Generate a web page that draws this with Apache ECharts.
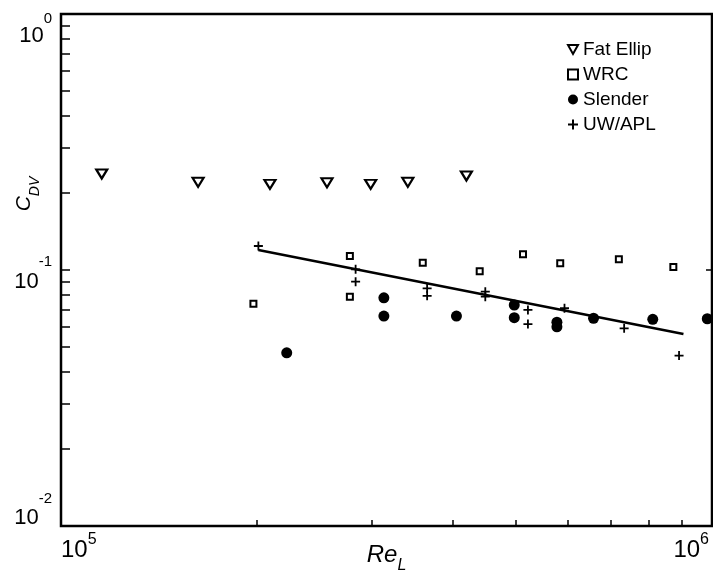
<!DOCTYPE html>
<html><head><meta charset="utf-8">
<script src="https://cdn.jsdelivr.net/npm/echarts@6/dist/echarts.min.js"></script>
<style>html,body{margin:0;padding:0;background:#fff}#c{width:713px;height:575px}</style>
</head><body><div id="c"></div><script>
// ---- data (Re_L, C_DV) ----
const fatEllipRe  = [1.155e5, 1.624e5, 2.094e5, 2.562e5, 2.99e5, 3.41e5, 4.195e5];
const fatEllipCdv = [0.237, 0.220, 0.216, 0.219, 0.216, 0.220, 0.233];
const wrcRe  = [1.975e5, 2.778e5, 2.778e5, 3.595e5, 4.397e5, 5.125e5, 5.846e5, 7.193e5, 8.722e5];
const wrcCdv = [0.0738, 0.1134, 0.0787, 0.1068, 0.0989, 0.1152, 0.1062, 0.1101, 0.1027];
const slenderRe  = [2.222e5, 3.133e5, 3.133e5, 4.05e5, 4.969e5, 4.969e5, 5.778e5, 5.778e5, 6.577e5, 8.11e5, 9.835e5];
const slenderCdv = [0.0475, 0.0779, 0.0661, 0.0661, 0.0730, 0.0651, 0.0625, 0.0600, 0.0648, 0.0642, 0.0645];
const uwRe  = [2.01e5, 2.835e5, 2.835e5, 3.651e5, 3.651e5, 4.485e5, 4.485e5, 5.215e5, 5.215e5, 5.935e5, 7.329e5, 8.9e5];
const uwCdv = [0.1241, 0.1006, 0.0900, 0.0848, 0.0793, 0.0823, 0.0787, 0.0698, 0.0615, 0.0709, 0.0592, 0.0463];
const fitRe  = [2.01e5, 9.04e5];
const fitCdv = [0.1197, 0.0562];
const seriesNames = ['Fat Ellip', 'WRC', 'Slender', 'UW/APL'];
// ---- axes / tick labels ----
const xTickValues = [1e5, 1e6];
const xTickExps = ['5', '6'];
const yTickValues = [0.01, 0.1, 1];
const yTickExps = ['-2', '-1', '0'];
const xMinorTicks = [1e5, 2e5, 3e5, 4e5, 5e5, 6e5, 7e5, 8e5, 9e5, 1e6];
const yMinorTicks = [0.01, 0.02, 0.03, 0.04, 0.05, 0.06, 0.07, 0.08, 0.09,
                     0.1, 0.2, 0.3, 0.4, 0.5, 0.6, 0.7, 0.8, 0.9, 1];
const xTitle = ['Re', 'L'];
const yTitle = ['C', 'DV'];

const FONT = '"Liberation Sans", Arial, Helvetica, sans-serif';
const pairs = (xs, ys) => xs.map((x, i) => [x, ys[i]]);
const idxOf = (arr, v) => arr.findIndex(t => Math.abs(Math.log10(t) - Math.log10(v)) < 1e-6);

// per-label vertical offsets of the y tick labels (base "10", superscript) relative to tick
const yLabelOffsets = [[-8, -27], [12, -8], [22, 5]];
const yRich = {};
const BOX = 100;
yLabelOffsets.forEach((o, i) => {
  const ptb = 39 + o[0], pts = 42.5 + o[1];
  yRich['b' + i] = {fontSize: 22, lineHeight: 22, fontFamily: FONT, color: '#000', padding: [ptb, 0, BOX - 22 - ptb, 0]};
  yRich['s' + i] = {fontSize: 15, lineHeight: 15, fontFamily: FONT, color: '#000', padding: [pts, 0, BOX - 15 - pts, 0]};
});
const TRI_DOWN = 'path://M0,0H10L5,9Z';

const chart = echarts.init(document.getElementById('c'), null, {renderer: 'canvas'});
const option = {
  animation: false,
  backgroundColor: '#fff',
  grid: {left: 61, right: 1, top: 14, bottom: 49, outerBoundsMode: 'none', containLabel: false,
         show: true, borderColor: '#000', borderWidth: 2.5, backgroundColor: 'transparent'},
  legend: {
    orient: 'vertical', left: 562, top: 35, itemWidth: 10, itemHeight: 10, itemGap: 6,
    textStyle: {fontSize: 19, color: '#000', fontFamily: FONT},
    data: seriesNames
  },
  xAxis: {
    type: 'log', logBase: 10, min: xTickValues[0], max: xTickValues[xTickValues.length - 1],
    splitLine: {show: false},
    axisLine: {show: false},
    axisTick: {show: true, inside: true, length: 6, lineStyle: {color: '#000', width: 1.5}, customValues: xMinorTicks},
    axisLabel: {
      margin: 6, alignMinLabel: 'left', alignMaxLabel: 'right', showMinLabel: true, showMaxLabel: true,
      formatter: v => { const i = idxOf(xTickValues, v); return '{b|10}{s|' + xTickExps[i] + '}'; },
      rich: {
        b: {fontSize: 24, lineHeight: 24, fontFamily: FONT, color: '#000', verticalAlign: 'top', padding: [6, 0, 0, 0]},
        s: {fontSize: 16, lineHeight: 16, fontFamily: FONT, color: '#000', verticalAlign: 'top', padding: [0, 3, 0, 0]}
      }
    },
    name: '{r|' + xTitle[0] + '}{l|' + xTitle[1] + '}',
    nameLocation: 'middle', nameGap: 17, nameMoveOverlap: false,
    nameTextStyle: {
      rich: {
        r: {fontSize: 24, lineHeight: 24, fontStyle: 'italic', fontFamily: FONT, color: '#000', verticalAlign: 'top'},
        l: {fontSize: 16, lineHeight: 16, fontStyle: 'italic', fontFamily: FONT, color: '#000', verticalAlign: 'top', padding: [15, 0, 0, 0]}
      }
    }
  },
  yAxis: [{
    type: 'log', logBase: 10, min: yTickValues[0], max: yTickValues[yTickValues.length - 1],
    splitLine: {show: false},
    axisLine: {show: false},
    axisTick: {show: true, inside: true, length: 9, lineStyle: {color: '#000', width: 1.5}, customValues: yMinorTicks},
    axisLabel: {
      margin: 9, showMinLabel: true, showMaxLabel: true,
      formatter: v => { const i = idxOf(yTickValues, v); return '{b' + i + '|10}{s' + i + '|' + yTickExps[i] + '}'; },
      rich: yRich
    },
    name: '{c|' + yTitle[0] + '}{s|' + yTitle[1] + '}',
    nameLocation: 'middle', nameRotate: 90, nameGap: 26, nameMoveOverlap: false,
    nameTextStyle: {
      padding: [0, 0, 0, 152],
      rich: {
        c: {fontSize: 21, lineHeight: 21, fontStyle: 'italic', fontFamily: FONT, color: '#000', verticalAlign: 'top'},
        s: {fontSize: 14, lineHeight: 14, fontStyle: 'italic', fontFamily: FONT, color: '#000', verticalAlign: 'top', padding: [14, 0, 0, 0]}
      }
    }
  }, {
    type: 'log', logBase: 10, position: 'right', min: yTickValues[0], max: yTickValues[yTickValues.length - 1],
    splitLine: {show: false}, axisLine: {show: false}, axisLabel: {show: false},
    axisTick: {show: true, inside: true, length: 6, lineStyle: {color: '#000', width: 1.5}}
  }],
  series: [
    {
      name: seriesNames[0], type: 'scatter', data: pairs(fatEllipRe, fatEllipCdv),
      symbol: TRI_DOWN, symbolSize: [11, 9],
      itemStyle: {color: '#fff', borderColor: '#000', borderWidth: 2.2, opacity: 1}
    },
    {
      name: seriesNames[1], type: 'scatter', data: pairs(wrcRe, wrcCdv),
      symbol: 'rect', symbolSize: 6,
      itemStyle: {color: '#fff', borderColor: '#000', borderWidth: 2, opacity: 1}
    },
    {
      name: seriesNames[2], type: 'scatter', data: pairs(slenderRe, slenderCdv),
      symbol: 'circle', symbolSize: 11,
      itemStyle: {color: '#000', opacity: 1}
    },
    {
      name: seriesNames[3], type: 'scatter', data: pairs(uwRe, uwCdv),
      symbol: 'path://M3.6,0H5.4V3.6H9V5.4H5.4V9H3.6V5.4H0V3.6H3.6Z', symbolSize: 9,
      itemStyle: {color: '#000', opacity: 1}
    },
    {
      name: 'fit', type: 'line', data: pairs(fitRe, fitCdv), showSymbol: false, symbol: 'none',
      lineStyle: {color: '#000', width: 2.5}, silent: true, z: 1
    }
  ]
};
chart.setOption(option);
</script></body></html>
